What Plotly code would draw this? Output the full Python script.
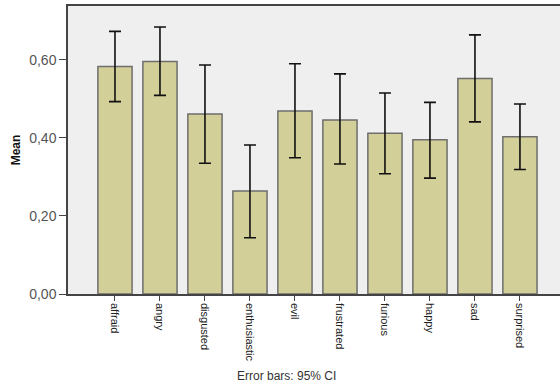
import plotly.graph_objects as go

categories = ["affraid", "angry", "disgusted", "enthusiastic", "evil",
              "frustrated", "furious", "happy", "sad", "surprised"]
means = [0.583, 0.596, 0.461, 0.264, 0.469, 0.446, 0.412, 0.395, 0.552, 0.403]
ci_upper = [0.673, 0.684, 0.587, 0.382, 0.590, 0.564, 0.515, 0.491, 0.664, 0.487]
ci_lower = [0.493, 0.509, 0.335, 0.144, 0.349, 0.333, 0.308, 0.297, 0.441, 0.319]

err_plus = [u - m for u, m in zip(ci_upper, means)]
err_minus = [m - l for m, l in zip(means, ci_lower)]
xpos = list(range(len(categories)))

fig = go.Figure(go.Bar(
    x=xpos, y=means, width=0.76,
    marker=dict(color="#d3cf98", line=dict(color="#6e6e6e", width=1.5)),
    error_y=dict(type="data", symmetric=False, array=err_plus, arrayminus=err_minus,
                 color="#111111", thickness=1.6, width=6),
))

fig.update_layout(
    width=560, height=387,
    margin=dict(l=68, r=0, t=6, b=93),
    paper_bgcolor="white", plot_bgcolor="#efefef",
    separators=",.",
    showlegend=False,
    font=dict(family="Liberation Sans, Arial, sans-serif", color="#333333"),
    annotations=[dict(text="Error bars: 95% CI", x=0.445, xref="paper", y=-0.285, yref="paper",
                      xanchor="center", yanchor="middle", showarrow=False,
                      font=dict(size=12, color="#333333"))],
)
fig.update_xaxes(
    tickmode="array", tickvals=xpos, ticktext=categories, tickangle=90,
    range=[-1.044, 9.89], showgrid=False, zeroline=False, automargin=False,
    showline=True, linecolor="#444444", linewidth=1.5, mirror=True,
    ticks="outside", ticklen=5, tickcolor="#444444",
    tickfont=dict(size=11, color="#222222"),
)
fig.update_yaxes(
    range=[0, 0.738], tickvals=[0, 0.2, 0.4, 0.6], tickformat=".2f",
    showgrid=False, zeroline=False, automargin=False,
    showline=True, linecolor="#444444", linewidth=1.5, mirror=True,
    ticks="outside", ticklen=7, tickcolor="#444444",
    tickfont=dict(size=14, color="#555555"),
    title=dict(text="<b>Mean</b>", font=dict(size=12, color="#111111"), standoff=6),
)

fig.write_html("out.html", config={"displayModeBar": False},
               post_script="document.body.style.margin='0';")
